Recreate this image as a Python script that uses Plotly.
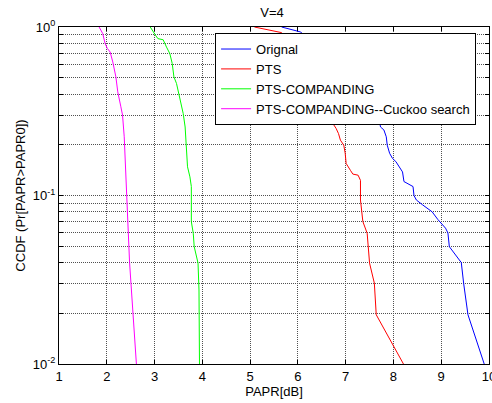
import plotly.graph_objects as go

# Data (PAPR in dB, CCDF probability)
orig_x = [5.66, 6.06, 7.64, 7.70, 7.73, 7.80, 7.85, 7.87, 7.92, 7.98, 8.05, 8.13, 8.19, 8.22, 8.33, 8.41, 8.43,
          8.48, 8.61, 8.81, 8.93, 9.09, 9.14, 9.17, 9.42, 9.47, 9.56, 9.90]
orig_y = [1.0, 0.934, 0.306, 0.28, 0.255, 0.245, 0.223, 0.199, 0.178, 0.166, 0.159, 0.148, 0.138, 0.121, 0.117, 0.113, 0.1,
          0.094, 0.088, 0.080, 0.072, 0.064, 0.060, 0.0497, 0.040, 0.030, 0.0196, 0.01]

pts_x = [5.09, 5.66, 6.70, 6.73, 6.80, 6.85, 6.89, 6.96, 6.99, 7.01, 7.10, 7.15, 7.26, 7.31, 7.31,
         7.33, 7.36, 7.45, 7.50, 7.60, 7.64, 8.21]
pts_y = [1.0, 0.926, 0.306, 0.268, 0.25, 0.233, 0.213, 0.199, 0.178, 0.155, 0.141, 0.134, 0.132, 0.123, 0.094,
         0.082, 0.070, 0.0597, 0.0397, 0.0302, 0.0196, 0.01]

comp_x = [2.91, 2.97, 3.02, 3.07, 3.18, 3.25, 3.32, 3.37, 3.405, 3.46, 3.53, 3.60, 3.64, 3.66, 3.69, 3.74, 3.77, 3.77,
          3.77, 3.81, 3.83, 3.91, 3.93, 3.94]
comp_y = [1.0, 0.934, 0.893, 0.853, 0.84, 0.76, 0.695, 0.607, 0.506, 0.462, 0.368, 0.306, 0.255, 0.194, 0.148, 0.129, 0.113, 0.094,
          0.070, 0.0597, 0.0497, 0.0397, 0.0275, 0.01]

cuckoo_x = [1.84, 1.915, 1.964, 2.013, 2.07, 2.126, 2.19, 2.23, 2.295, 2.33, 2.365, 2.38, 2.41, 2.42, 2.477, 2.62]
cuckoo_y = [1.0, 0.914, 0.80, 0.745, 0.711, 0.62, 0.506, 0.412, 0.336, 0.30, 0.223, 0.178, 0.103, 0.094, 0.04, 0.01]

x_ticks = [1, 2, 3, 4, 5, 6, 7, 8, 9, 10]
y_grid = [m * 10 ** e for e in (-2, -1) for m in range(1, 10)] + [1]
y_text = {0.01: "10<sup>-2</sup>", 0.1: "10<sup>-1</sup>", 1: "10<sup>0</sup>"}

series = [
    ("Orignal", orig_x, orig_y, "#0000ff"),
    ("PTS", pts_x, pts_y, "#ff0000"),
    ("PTS-COMPANDING", comp_x, comp_y, "#00ff00"),
    ("PTS-COMPANDING--Cuckoo search", cuckoo_x, cuckoo_y, "#ff00ff"),
]

fig = go.Figure()
for name, xs, ys, c in series:
    fig.add_trace(go.Scatter(x=xs, y=ys, mode="lines", name=name,
                             line=dict(color=c, width=1)))

font = "Liberation Sans, Arial, sans-serif"
fig.update_layout(
    width=492, height=403,
    margin=dict(l=59, r=3, t=27, b=39, autoexpand=False),
    paper_bgcolor="white", plot_bgcolor="white",
    font=dict(family=font, size=13, color="black"),
    title=dict(text="V=4", x=0.553, xanchor="center", y=0.968, yanchor="middle",
               font=dict(size=13)),
    showlegend=True,
    legend=dict(x=0.363, y=0.982, xanchor="left", yanchor="top",
                bgcolor="white", bordercolor="black", borderwidth=1,
                font=dict(size=13), itemwidth=30, tracegroupgap=0),
)
grid = dict(showgrid=True, gridcolor="#505050", griddash="1px,1px", gridwidth=1)
fig.update_xaxes(
    range=[1, 10], tickvals=x_ticks, ticktext=[str(v) for v in x_ticks],
    ticklabeloverflow="allow",
    showline=True, linecolor="black", linewidth=1, mirror="allticks",
    ticks="inside", ticklen=4, tickcolor="black",
    zeroline=False,
    title=dict(text="PAPR[dB]", standoff=2, font=dict(size=13)),
    **grid,
)
fig.update_yaxes(
    type="log", range=[-2, 0], tickvals=y_grid,
    ticktext=[y_text.get(round(v, 6), "") for v in y_grid],
    showline=True, linecolor="black", linewidth=1, mirror="allticks",
    ticks="inside", ticklen=4, tickcolor="black",
    zeroline=False,
    title=dict(text="CCDF (Pr[PAPR>PAPR0])", standoff=4, font=dict(size=13)),
    **grid,
)

fig.write_html("out.html", config={"displayModeBar": False},
               post_script="document.body.style.margin='0';")
